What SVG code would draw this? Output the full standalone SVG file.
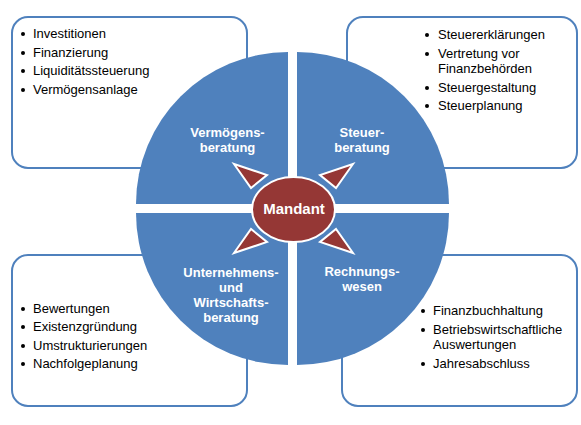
<svg xmlns="http://www.w3.org/2000/svg" width="581" height="425" viewBox="0 0 581 425">
<style>
.box{fill:#ffffff;stroke:#4f81bd;stroke-width:2}
.q{fill:#4f81bd}
.red{fill:#953735;stroke:#ffffff;stroke-width:2}
.t{font-family:"Liberation Sans",Arial,sans-serif;font-size:13px;fill:#000000}
.lbl{font-family:"Liberation Sans",Arial,sans-serif;font-size:13px;font-weight:bold;fill:#ffffff;text-anchor:middle}
.m{font-family:"Liberation Sans",Arial,sans-serif;font-size:15px;font-weight:bold;fill:#ffffff;text-anchor:middle}
.b{fill:#000000}
</style>
<rect width="581" height="425" fill="#ffffff"/>
<g id="box-vermoegen">
<rect class="box" x="12" y="17" width="235" height="151" rx="16"/>
<circle class="b" cx="23" cy="34" r="2"/><text class="t" x="33" y="38">Investitionen</text>
<circle class="b" cx="23" cy="53" r="2"/><text class="t" x="33" y="57">Finanzierung</text>
<circle class="b" cx="23" cy="71" r="2"/><text class="t" x="33" y="75">Liquiditätssteuerung</text>
<circle class="b" cx="23" cy="90" r="2"/><text class="t" x="33" y="94">Vermögensanlage</text>
</g>
<g id="box-steuer">
<rect class="box" x="347" y="17" width="230" height="151" rx="16"/>
<circle class="b" cx="427" cy="35" r="2"/><text class="t" x="438" y="39">Steuererklärungen</text>
<circle class="b" cx="427" cy="54" r="2"/><text class="t" x="438" y="58">Vertretung vor</text>
<text class="t" x="438" y="73">Finanzbehörden</text>
<circle class="b" cx="427" cy="88" r="2"/><text class="t" x="438" y="92">Steuergestaltung</text>
<circle class="b" cx="427" cy="106" r="2"/><text class="t" x="438" y="110">Steuerplanung</text>
</g>
<g id="box-unternehmen">
<rect class="box" x="12" y="255" width="235" height="151" rx="16"/>
<circle class="b" cx="23" cy="309" r="2"/><text class="t" x="33" y="313">Bewertungen</text>
<circle class="b" cx="23" cy="327" r="2"/><text class="t" x="33" y="331">Existenzgründung</text>
<circle class="b" cx="23" cy="346" r="2"/><text class="t" x="33" y="350">Umstrukturierungen</text>
<circle class="b" cx="23" cy="364" r="2"/><text class="t" x="33" y="368">Nachfolgeplanung</text>
</g>
<g id="box-rechnung">
<rect class="box" x="342" y="255" width="235" height="151" rx="16"/>
<circle class="b" cx="423" cy="311" r="2"/><text class="t" x="433" y="315">Finanzbuchhaltung</text>
<circle class="b" cx="423" cy="330" r="2"/><text class="t" x="433" y="334">Betriebswirtschaftliche</text>
<text class="t" x="433" y="349">Auswertungen</text>
<circle class="b" cx="423" cy="364" r="2"/><text class="t" x="433" y="368">Jahresabschluss</text>
</g>
<g id="q-vermoegen">
<path class="q" d="M288,204 L136,204 A152,152 0 0 1 288,52 Z"/>
<text class="lbl" x="227.5" y="137">Vermögens-</text>
<text class="lbl" x="227.5" y="152">beratung</text>
</g>
<g id="q-steuer">
<path class="q" d="M297,204 L297,52 A152,152 0 0 1 449,204 Z"/>
<text class="lbl" x="362" y="137">Steuer-</text>
<text class="lbl" x="362" y="152">beratung</text>
</g>
<g id="q-unternehmen">
<path class="q" d="M288,213 L288,365 A152,152 0 0 1 136,213 Z"/>
<text class="lbl" x="231" y="277">Unternehmens-</text>
<text class="lbl" x="231" y="292">und</text>
<text class="lbl" x="231" y="307">Wirtschafts-</text>
<text class="lbl" x="231" y="322">beratung</text>
</g>
<g id="q-rechnung">
<path class="q" d="M297,213 L449,213 A152,152 0 0 1 297,365 Z"/>
<text class="lbl" x="362" y="276">Rechnungs-</text>
<text class="lbl" x="362" y="291">wesen</text>
</g>
<g id="connectors">
<polygon class="red" points="234,164 267,175 251,188"/>
<polygon class="red" points="353,164 320,175 336,188"/>
<polygon class="red" points="234,253 267,242 251,229"/>
<polygon class="red" points="353,253 320,242 336,229"/>
</g>
<g id="mandant">
<ellipse class="red" cx="293.5" cy="209.5" rx="41.5" ry="32.5"/>
<text class="m" x="294" y="214">Mandant</text>
</g>
</svg>
